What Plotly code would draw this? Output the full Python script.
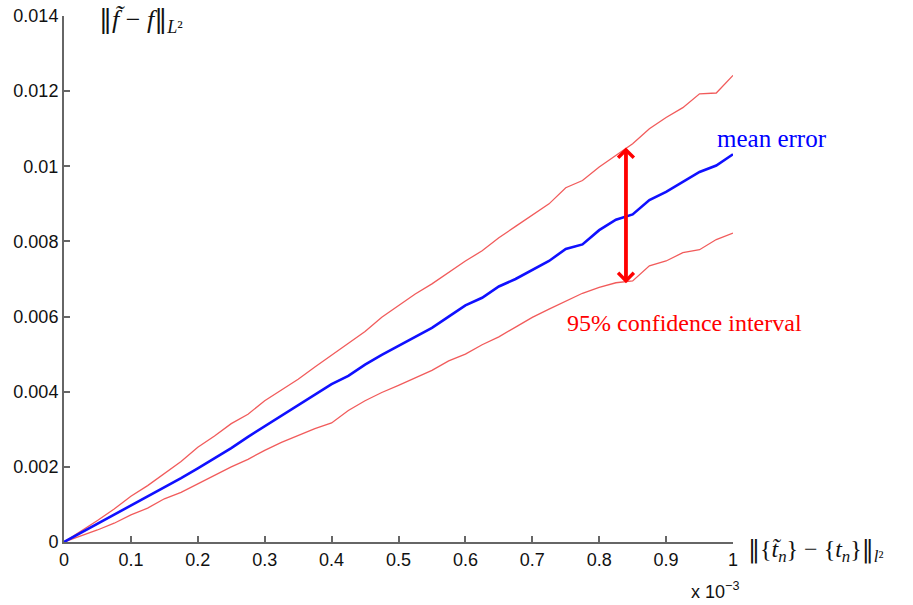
import plotly.graph_objects as go

# x in units of 1e-3
x_vals = [0, 0.025, 0.05, 0.075, 0.1, 0.125, 0.15, 0.175, 0.2, 0.225, 0.25,
          0.275, 0.3, 0.325, 0.35, 0.375, 0.4, 0.425, 0.45, 0.475, 0.5,
          0.525, 0.55, 0.575, 0.6, 0.625, 0.65, 0.675, 0.7, 0.725, 0.75,
          0.775, 0.8, 0.825, 0.85, 0.875, 0.9, 0.925, 0.95, 0.975, 1.0]

# values in units of 1e-3
upper_ci = [0, 0.28, 0.57, 0.88, 1.22, 1.50, 1.83, 2.14, 2.52, 2.82, 3.15,
            3.40, 3.76, 4.05, 4.33, 4.66, 4.98, 5.28, 5.60, 5.98, 6.30,
            6.60, 6.87, 7.18, 7.48, 7.75, 8.10, 8.40, 8.70, 9.00, 9.43,
            9.62, 9.98, 10.30, 10.60, 11.00, 11.30, 11.56, 11.93, 11.95, 12.42]
mean_err = [0, 0.24, 0.48, 0.72, 0.96, 1.20, 1.45, 1.70, 1.96, 2.22, 2.50,
            2.80, 3.08, 3.36, 3.62, 3.92, 4.20, 4.42, 4.72, 4.98, 5.22,
            5.48, 5.70, 6.00, 6.30, 6.50, 6.80, 7.00, 7.24, 7.48, 7.80,
            7.92, 8.30, 8.58, 8.72, 9.10, 9.32, 9.58, 9.85, 10.02, 10.32]
lower_ci = [0, 0.15, 0.32, 0.50, 0.72, 0.90, 1.15, 1.32, 1.55, 1.78, 2.00,
            2.20, 2.44, 2.65, 2.84, 3.02, 3.17, 3.50, 3.76, 3.98, 4.17,
            4.38, 4.57, 4.82, 5.00, 5.25, 5.46, 5.72, 5.98, 6.20, 6.42,
            6.62, 6.78, 6.90, 6.95, 7.35, 7.48, 7.70, 7.78, 8.05, 8.22]

x_ticks = [0, 0.1, 0.2, 0.3, 0.4, 0.5, 0.6, 0.7, 0.8, 0.9, 1]
x_ticklabels = ["0", "0.1", "0.2", "0.3", "0.4", "0.5", "0.6", "0.7", "0.8", "0.9", "1"]
y_ticks = [0, 0.002, 0.004, 0.006, 0.008, 0.01, 0.012, 0.014]
y_ticklabels = ["0", "0.002", "0.004", "0.006", "0.008", "0.01", "0.012", "0.014"]

# confidence arrow position (x in 1e-3, y in 1e-3)
arrow_x = 0.84
arrow_top = 10.50
arrow_bottom = 6.85

scale = 1e-3
fig = go.Figure()
red = "rgba(238,50,50,0.8)"
fig.add_trace(go.Scatter(x=x_vals, y=[v * scale for v in upper_ci], mode="lines",
                         line=dict(color=red, width=1.3), showlegend=False))
fig.add_trace(go.Scatter(x=x_vals, y=[v * scale for v in lower_ci], mode="lines",
                         line=dict(color=red, width=1.3), showlegend=False))
fig.add_trace(go.Scatter(x=x_vals, y=[v * scale for v in mean_err], mode="lines",
                         line=dict(color="#1010ff", width=2.6), showlegend=False))

fig.add_annotation(x=arrow_x, y=arrow_top * scale, ax=arrow_x, ay=arrow_bottom * scale,
                   xref="x", yref="y", axref="x", ayref="y", text="",
                   showarrow=True, arrowhead=4, startarrowhead=4, arrowside="end+start",
                   arrowsize=0.8, startarrowsize=0.8, arrowwidth=3.8, arrowcolor="#ff0000")

serif = "Liberation Serif"
bar = '<span style="font-family:DejaVu Serif">‖</span>'
fig.add_annotation(x=1.058, y=0.768, xref="paper", yref="paper", xanchor="center", yanchor="middle",
                   text="mean error", showarrow=False,
                   font=dict(family=serif, size=25, color="#0000ff"))
fig.add_annotation(x=0.928, y=0.416, xref="paper", yref="paper", xanchor="center", yanchor="middle",
                   text="95% confidence interval", showarrow=False,
                   font=dict(family=serif, size=24, color="#ff0000"))

fig.add_annotation(x=0.050, y=0.992, xref="paper", yref="paper", xanchor="left", yanchor="middle",
                   text=bar + "<i>f̃</i> − <i>f</i>" + bar + "<sub><i>L</i>²</sub>", showarrow=False,
                   font=dict(family=serif, size=26, color="#111"))
fig.add_annotation(x=1.020, y=-0.017, xref="paper", yref="paper", xanchor="left", yanchor="middle",
                   text=bar + "{<i>t̃</i><sub><i>n</i></sub>} − {<i>t</i><sub><i>n</i></sub>}" + bar
                        + "<sub><i>l</i>²</sub>",
                   showarrow=False, font=dict(family=serif, size=24, color="#111"))
fig.add_annotation(x=1.012, y=-0.092, xref="paper", yref="paper", xanchor="right", yanchor="middle",
                   text="x 10<sup>−3</sup>", showarrow=False,
                   font=dict(family="Liberation Sans", size=18, color="#111"))

axis_common = dict(showgrid=False, zeroline=False, showline=True, linecolor="#666",
                   linewidth=2, ticks="inside", ticklen=6, tickwidth=1.5, tickcolor="#666",
                   automargin=False, ticklabeloverflow="allow",
                   tickfont=dict(family="Liberation Sans", size=18, color="#111"))
fig.update_xaxes(range=[0, 1], tickvals=x_ticks, ticktext=x_ticklabels, **axis_common)
fig.update_yaxes(range=[0, 0.014], tickvals=y_ticks, ticktext=y_ticklabels, **axis_common)

fig.update_layout(width=913, height=605, plot_bgcolor="white", paper_bgcolor="white",
                  margin=dict(l=64, r=180, t=16, b=63))
# remove the default page-body margin so the figure fills the window exactly
fig.write_html("out.html", config={"displayModeBar": False},
               post_script="document.body.style.margin='0';")
